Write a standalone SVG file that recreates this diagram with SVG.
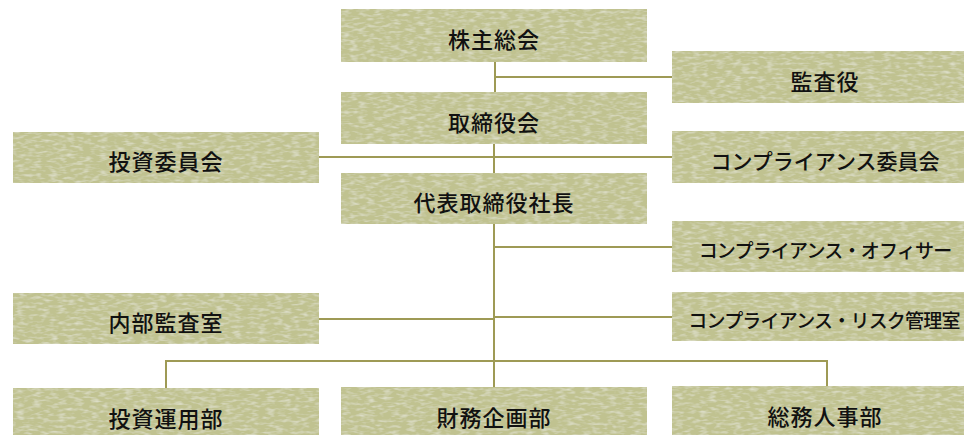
<svg xmlns="http://www.w3.org/2000/svg" width="964" height="435" viewBox="0 0 964 435">
<defs>
<filter id="tex" x="0" y="0" width="100%" height="100%">
<feTurbulence type="fractalNoise" baseFrequency="0.12 0.35" numOctaves="2" seed="7" result="n"/>
<feColorMatrix in="n" type="matrix" values="0 0 0 0 1  0 0 0 0 1  0 0 0 0 1  0 0 0 0.9 -0.4" result="w"/>
<feComposite in="w" in2="SourceGraphic" operator="atop"/>
</filter>
<style>
.box{fill:#c0c290;filter:url(#tex);}
.t{font-family:"Noto Sans CJK JP","Noto Sans",sans-serif;font-size:22px;font-weight:500;fill:#111;text-anchor:middle;dominant-baseline:central;letter-spacing:1px;}
.s{font-size:19px;letter-spacing:-0.8px;}
.m{font-size:21px;letter-spacing:0;}
.c{stroke:#9e9a55;stroke-width:2;fill:none;}
</style>
</defs>
<rect width="964" height="435" fill="#fff"/>
<g id="connectors">
<path class="c" d="M495 62V92M495 77H672"/>
<path class="c" d="M494 144V173M319 157H672"/>
<path class="c" d="M494 224V387M494 247H672M494 317H672M319 319H494"/>
<path class="c" d="M166 388V361H827V386"/>
</g>
<g id="n1"><rect class="box" x="341" y="9" width="306" height="53"/><text class="t" x="494" y="38">株主総会</text></g>
<g id="n2"><rect class="box" x="341" y="92" width="306" height="52"/><text class="t" x="494" y="121">取締役会</text></g>
<g id="n3"><rect class="box" x="341" y="173" width="306" height="51"/><text class="t" x="494" y="201">代表取締役社長</text></g>
<g id="n4"><rect class="box" x="672" y="51" width="306" height="52"/><text class="t" x="825" y="80">監査役</text></g>
<g id="n5"><rect class="box" x="13" y="132" width="306" height="51"/><text class="t" x="166" y="160">投資委員会</text></g>
<g id="n6"><rect class="box" x="672" y="131" width="306" height="52"/><text class="t m" x="825" y="160">コンプライアンス委員会</text></g>
<g id="n7"><rect class="box" x="672" y="221" width="306" height="51"/><text class="t s" x="825" y="249">コンプライアンス・オフィサー</text></g>
<g id="n8"><rect class="box" x="672" y="292" width="306" height="49"/><text class="t s" x="824" y="319">コンプライアンス・リスク管理室</text></g>
<g id="n9"><rect class="box" x="13" y="293" width="306" height="51"/><text class="t" x="166" y="321">内部監査室</text></g>
<g id="n10"><rect class="box" x="13" y="388" width="306" height="52"/><text class="t" x="166" y="417">投資運用部</text></g>
<g id="n11"><rect class="box" x="341" y="387" width="306" height="52"/><text class="t" x="494" y="416">財務企画部</text></g>
<g id="n12"><rect class="box" x="672" y="386" width="306" height="52"/><text class="t" x="825" y="415">総務人事部</text></g>
</svg>
